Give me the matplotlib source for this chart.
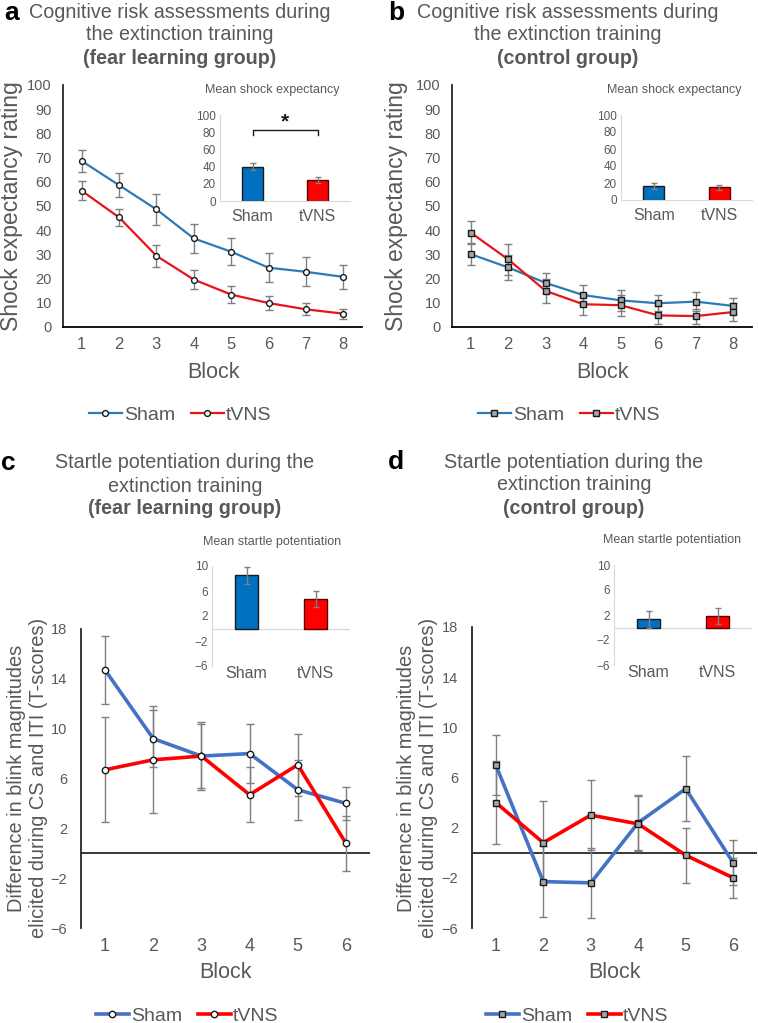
import numpy as np
import matplotlib
matplotlib.use("Agg")
from matplotlib import pyplot as plt

plt.rcParams['font.family'] = ['Liberation Sans', 'DejaVu Sans']

# data
blocks8 = [1, 2, 3, 4, 5, 6, 7, 8]
blocks6 = [1, 2, 3, 4, 5, 6]
groups = ['Sham', 'tVNS']

sham_a = [68.6, 58.6, 48.6, 36.6, 31.1, 24.5, 22.8, 20.7]
sham_a_err = [4.5, 5.0, 6.5, 6.0, 5.5, 6.0, 6.0, 5.0]
tvns_a = [56.3, 45.3, 29.4, 19.6, 13.4, 9.9, 7.3, 5.5]
tvns_a_err = [4.0, 3.5, 4.5, 4.0, 3.5, 3.0, 2.5, 2.0]

sham_b = [30.1, 24.6, 18.2, 13.2, 11.0, 9.8, 10.5, 8.7]
sham_b_err = [4.5, 5.0, 4.1, 4.3, 4.2, 3.3, 4.0, 3.3]
tvns_b = [39.0, 27.9, 14.9, 9.4, 9.0, 4.8, 4.5, 6.2]
tvns_b_err = [4.7, 6.3, 5.0, 4.3, 4.4, 3.7, 3.1, 3.7]

sham_c = [14.7, 9.2, 7.8, 8.0, 5.1, 4.0]
sham_c_err = [2.7, 2.3, 2.6, 2.4, 2.4, 1.3]
tvns_c = [6.7, 7.5, 7.8, 4.7, 7.1, 0.8]
tvns_c_err = [4.2, 4.3, 2.7, 2.2, 2.5, 2.2]

sham_d = [7.0, -2.3, -2.4, 2.4, 5.1, -0.8]
sham_d_err = [2.4, 2.8, 2.8, 2.2, 2.6, 1.8]
tvns_d = [4.0, 0.8, 3.0, 2.3, -0.2, -2.0]
tvns_d_err = [3.3, 3.3, 2.8, 2.2, 2.2, 1.6]

mean_a = [40, 24]
mean_a_err = [4.5, 3.5]
mean_b = [16, 15]
mean_b_err = [3.5, 3.0]
mean_c = [8.5, 4.7]
mean_c_err = [1.3, 1.3]
mean_d = [1.3, 1.8]
mean_d_err = [1.3, 1.3]

W, H = 758, 1023
fig = plt.figure(figsize=(W/100, H/100), dpi=100)
GRAY = '#595959'
ERR = '#7f7f7f'
TFS = 14.2  # title font size

def px_axes(x0, y0, x1, y1):
    return fig.add_axes([x0/W, 1 - y1/H, (x1 - x0)/W, (y1 - y0)/H])

def ftext(x, y, s, **kw):
    kw.setdefault('ha', 'center')
    kw.setdefault('va', 'center')
    kw.setdefault('color', GRAY)
    fig.text(x/W, 1 - y/H, s, **kw)

def main_panel(ax, x, sham, sham_err, tvns, tvns_err, cols, marker, mfc, lw, ms):
    hs = []
    for y, e, c, name in [(sham, sham_err, cols[0], 'Sham'), (tvns, tvns_err, cols[1], 'tVNS')]:
        ax.errorbar(x, y, yerr=e, fmt='none', ecolor=ERR, elinewidth=1, capsize=3, capthick=1, zorder=3)
        h, = ax.plot(x, y, color=c, lw=lw, marker=marker, ms=ms, mfc=mfc, mec='#1a1a1a', mew=1, zorder=4, label=name)
        hs.append(h)
    return hs

def inset(ax, vals, errs, ylim, yticks, labpad):
    ax.bar([0, 1], vals, width=0.32, color=['#0070C0', '#FF0000'],
           edgecolor=['#1a1a1a', '#5a0000'], linewidth=1, zorder=2)
    ax.errorbar([0, 1], vals, yerr=errs, fmt='none', ecolor=ERR, elinewidth=1, capsize=2.5, zorder=3)
    ax.set_xlim(-0.5, 1.5)
    ax.set_ylim(*ylim)
    ax.set_yticks(yticks)
    ax.set_xticks([0, 1])
    ax.set_xticklabels(groups)
    ax.tick_params(axis='y', length=0, labelsize=8.5, labelcolor=GRAY, pad=3)
    ax.tick_params(axis='x', length=0, labelsize=11.5, labelcolor=GRAY, pad=labpad)
    for s in ['top', 'right', 'bottom']:
        ax.spines[s].set_visible(False)
    ax.spines['left'].set_color('#d9d9d9')
    ax.patch.set_alpha(0)

def legend(ax, hs, x, y):
    ax.legend(hs, groups, loc='center', bbox_to_anchor=(x/W, 1 - y/H), bbox_transform=fig.transFigure,
              ncol=2, frameon=False, fontsize=14, handlelength=1.7, handletextpad=0.1,
              columnspacing=0.8, labelcolor=GRAY)

# ---------- a / b ----------
for (x0, x1), sham, se, tvns, te, marker, mfc, lx in [
        ((63, 362), sham_a, sham_a_err, tvns_a, tvns_a_err, 'o', 'white', 180),
        ((452, 752), sham_b, sham_b_err, tvns_b, tvns_b_err, 's', '#a6a6a6', 569)]:
    ax = px_axes(x0, 85, x1, 327)
    hs = main_panel(ax, blocks8, sham, se, tvns, te, ['#2b7bba', '#e8141b'], marker, mfc, 1.6, 4.2)
    ax.set_xlim(0.5, 8.5)
    ax.set_ylim(0, 100)
    ax.set_yticks(np.arange(0, 101, 10))
    ax.set_xticks(blocks8)
    ax.tick_params(axis='y', length=0, labelsize=10.5, labelcolor=GRAY, pad=8)
    ax.tick_params(axis='x', length=0, labelsize=12, labelcolor=GRAY, pad=7)
    for s in ['top', 'right']:
        ax.spines[s].set_visible(False)
    ax.spines['left'].set_color('#262626')
    ax.spines['bottom'].set_color('#000000')
    ax.spines['left'].set_linewidth(1.3)
    ax.spines['bottom'].set_linewidth(1.3)
    legend(ax, hs, lx, 415)

ia = px_axes(220, 115, 350, 201)
inset(ia, mean_a, mean_a_err, (0, 100), np.arange(0, 101, 20), 6)
ia.spines['bottom'].set_visible(True)
ia.spines['bottom'].set_color('#d9d9d9')
ia.plot([0, 0, 1, 1], [77, 83, 83, 77], color='#1a1a1a', lw=1, clip_on=False)
ia.text(0.5, 92, '*', ha='center', va='center', fontsize=15, fontweight='bold', color='#1a1a1a')

ib = px_axes(621, 115, 752, 200)
inset(ib, mean_b, mean_b_err, (0, 100), np.arange(0, 101, 20), 6)
ib.spines['bottom'].set_visible(True)
ib.spines['bottom'].set_color('#d9d9d9')

ftext(272, 90, 'Mean shock expectancy', fontsize=9)
ftext(674, 90, 'Mean shock expectancy', fontsize=9)

# ---------- c / d ----------
for (x0, y0, x1), sham, se, tvns, te, marker, mfc, lx in [
        ((81, 629, 370), sham_c, sham_c_err, tvns_c, tvns_c_err, 'o', 'white', 187),
        ((472, 627, 757), sham_d, sham_d_err, tvns_d, tvns_d_err, 's', '#a6a6a6', 577)]:
    ax = px_axes(x0, y0, x1, 928)
    hs = main_panel(ax, blocks6, sham, se, tvns, te, ['#4472C4', '#FF0000'], marker, mfc, 2.6, 4.6)
    ax.axhline(0, color='#000000', lw=1.1, zorder=1)
    ax.set_xlim(0.5, 6.5)
    ax.set_ylim(-6, 18)
    ax.set_yticks(np.arange(-6, 19, 4))
    ax.set_xticks(blocks6)
    ax.tick_params(axis='y', length=0, labelsize=10.5, labelcolor=GRAY, pad=10)
    ax.tick_params(axis='x', length=0, labelsize=13, labelcolor=GRAY, pad=7)
    for s in ['top', 'right', 'bottom']:
        ax.spines[s].set_visible(False)
    ax.spines['left'].set_color('#262626')
    ax.spines['left'].set_linewidth(1.3)
    legend(ax, hs, lx, 1016)

ic = px_axes(212, 566, 350, 666)
inset(ic, mean_c, mean_c_err, (-6, 10), np.arange(-6, 11, 4), 0)
ic.axhline(0, color='#d9d9d9', lw=1, zorder=1)
idd = px_axes(614, 565, 752, 665)
inset(idd, mean_d, mean_d_err, (-6, 10), np.arange(-6, 11, 4), 0)
idd.axhline(0, color='#d9d9d9', lw=1, zorder=1)

ftext(272, 542, 'Mean startle potentiation', fontsize=9)
ftext(672, 540, 'Mean startle potentiation', fontsize=9)

# ---------- titles and labels ----------
ftext(12, 13, 'a', fontsize=19, fontweight='bold', color='black')
ftext(180, 13, 'Cognitive risk assessments during', fontsize=TFS)
ftext(180, 35, 'the extinction training', fontsize=TFS)
ftext(180, 58, '(fear learning group)', fontsize=TFS, fontweight='bold')

ftext(396, 13, 'b', fontsize=19, fontweight='bold', color='black')
ftext(568, 13, 'Cognitive risk assessments during', fontsize=TFS)
ftext(568, 35, 'the extinction training', fontsize=TFS)
ftext(568, 58, '(control group)', fontsize=TFS, fontweight='bold')

ftext(8, 463, 'c', fontsize=19, fontweight='bold', color='black')
ftext(185, 463, 'Startle potentiation during the', fontsize=TFS)
ftext(185, 486, 'extinction training', fontsize=TFS)
ftext(185, 509, '(fear learning group)', fontsize=TFS, fontweight='bold')

ftext(396, 462, 'd', fontsize=19, fontweight='bold', color='black')
ftext(574, 462, 'Startle potentiation during the', fontsize=TFS)
ftext(574, 485, 'extinction training', fontsize=TFS)
ftext(574, 508, '(control group)', fontsize=TFS, fontweight='bold')

ftext(12, 206, 'Shock expectancy rating', fontsize=16.5, rotation=90)
ftext(397, 206, 'Shock expectancy rating', fontsize=16.5, rotation=90)
ftext(28, 778, 'Difference in blink magnitudes\nelicited during CS and ITI (T-scores)',
      fontsize=14.4, rotation=90, linespacing=1.2)
ftext(417, 778, 'Difference in blink magnitudes\nelicited during CS and ITI (T-scores)',
      fontsize=14.4, rotation=90, linespacing=1.2)

ftext(213, 373, 'Block', fontsize=15.5)
ftext(602, 373, 'Block', fontsize=15.5)
ftext(225, 973, 'Block', fontsize=15.5)
ftext(615, 973, 'Block', fontsize=15.5)

fig.savefig('out.png', dpi=100, facecolor='white')
